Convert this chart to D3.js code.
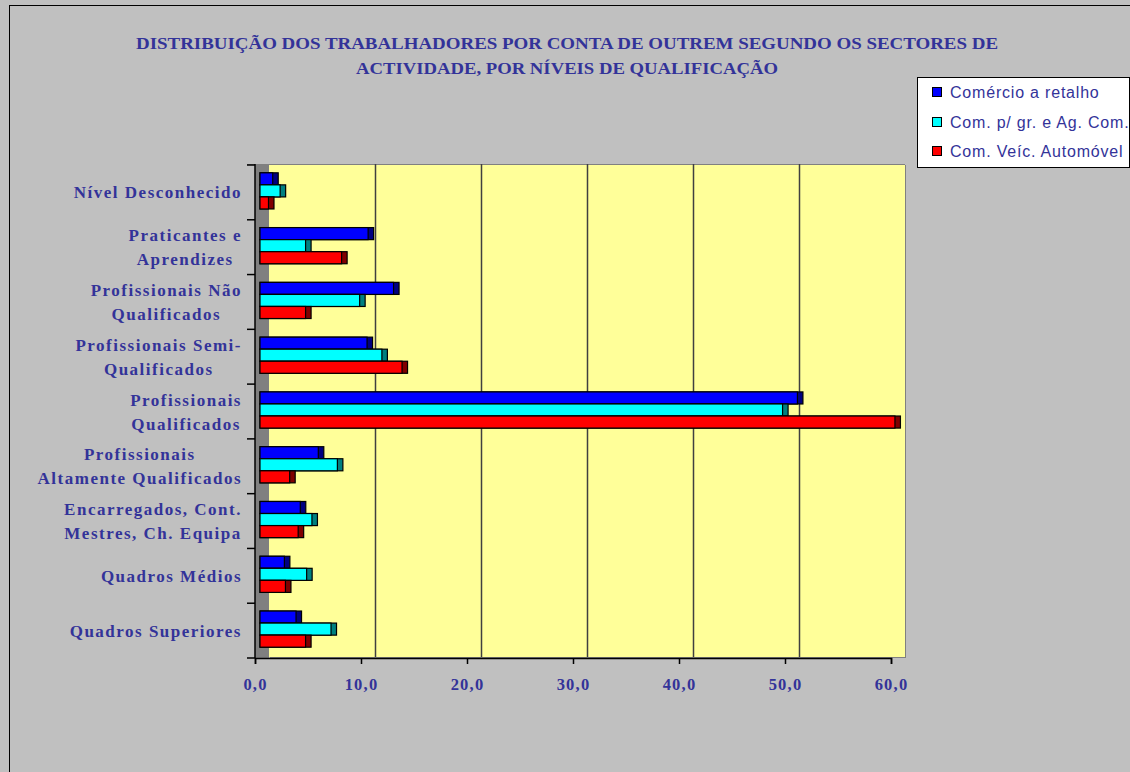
<!DOCTYPE html>
<html>
<head>
<meta charset="utf-8">
<script src="https://cdn.jsdelivr.net/npm/d3@7"></script>
<style>
  body { margin: 0; background: #c0c0c0; }
  svg { display: block; }
</style>
</head>
<body>
<svg width="1130" height="772"></svg>
<script>
    // data (percent of workers)
    const categories = [
      ["Nível Desconhecido"],
      ["Praticantes e", "Aprendizes"],
      ["Profissionais Não", "Qualificados"],
      ["Profissionais Semi-", "Qualificados"],
      ["Profissionais", "Qualificados"],
      ["Profissionais", "Altamente Qualificados"],
      ["Encarregados, Cont.", "Mestres, Ch. Equipa"],
      ["Quadros Médios"],
      ["Quadros Superiores"]
    ];
    const seriesNames = ["Comércio a retalho", "Com. p/ gr. e Ag. Com.", "Com. Veíc. Automóvel"];
    const retalho = [1.2, 10.2, 12.6, 10.1, 50.7, 5.5, 3.8, 2.3, 3.4];
    const grosso = [1.9, 4.3, 9.4, 11.5, 49.3, 7.3, 4.9, 4.4, 6.7];
    const automovel = [0.8, 7.7, 4.3, 13.4, 59.9, 2.8, 3.6, 2.4, 4.3];
    const xTicks = [0, 10, 20, 30, 40, 50, 60];

    const seriesValues = [retalho, grosso, automovel];
    const frontColors = ["#0000ff", "#00ffff", "#ff0000"];
    const sideColors = ["#000080", "#008080", "#800000"];
    const textColor = "#333399";

    const svg = d3.select("svg");
    const depth = 14;

    const x = d3.scaleLinear().domain([0, 60]).range([255, 891]);
    const keys = categories.map((c, i) => i);
    const y = d3.scaleBand().domain(keys).range([165, 658]).paddingInner(0.34).paddingOuter(0.17);
    const ySub = d3.scaleBand().domain([0, 1, 2]).range([0, y.bandwidth()]);

    // outer frame
    svg.append("rect").attr("x", 9.5).attr("y", 5.5).attr("width", 1130).attr("height", 780)
      .attr("fill", "#c0c0c0").attr("stroke", "#000").attr("stroke-width", 1);

    // title
    const title = svg.append("g").attr("fill", textColor)
      .attr("font-family", "'Liberation Serif', 'Times New Roman', serif")
      .attr("font-weight", "bold").attr("font-size", 17).attr("text-anchor", "middle");
    title.append("text").attr("x", 567).attr("y", 49)
      .attr("textLength", 862).attr("lengthAdjust", "spacingAndGlyphs")
      .text("DISTRIBUIÇÃO DOS TRABALHADORES POR CONTA DE OUTREM SEGUNDO OS SECTORES DE");
    title.append("text").attr("x", 567).attr("y", 74)
      .attr("textLength", 422).attr("lengthAdjust", "spacingAndGlyphs")
      .text("ACTIVIDADE, POR NÍVEIS DE QUALIFICAÇÃO");

    // back wall and side wall
    const wallTop = 164, wallBottom = 657;
    svg.append("rect").attr("x", x(0) + depth + 1).attr("y", wallTop + 1)
      .attr("width", x(60) - x(0)).attr("height", wallBottom - wallTop)
      .attr("fill", "#808080");
    svg.append("rect").attr("x", x(0) + depth).attr("y", wallTop)
      .attr("width", x(60) - x(0)).attr("height", wallBottom - wallTop)
      .attr("fill", "#ffff99");
    svg.append("rect").attr("x", x(0)).attr("y", wallTop)
      .attr("width", depth).attr("height", wallBottom - wallTop + 1)
      .attr("fill", "#808080");
    svg.append("line").attr("x1", 247).attr("x2", x(60) + depth).attr("y1", wallTop + 0.5).attr("y2", wallTop + 0.5)
      .attr("stroke", "#808080");

    // gridlines on back wall
    svg.append("g").selectAll("line").data(xTicks.slice(1, -1)).join("line")
      .attr("x1", d => Math.round(x(d) + depth) + 0.5).attr("x2", d => Math.round(x(d) + depth) + 0.5)
      .attr("y1", wallTop).attr("y2", wallBottom)
      .attr("stroke", "#404040").attr("stroke-width", 1.5);

    // bars
    const groups = svg.append("g").selectAll("g").data(keys).join("g")
      .attr("transform", d => `translate(0,${y(d) - 1.5})`);
    seriesValues.forEach((vals, s) => {
      groups.append("rect")
        .attr("x", x(0) + 5).attr("y", ySub(s))
        .attr("width", d => x(vals[d]) - x(0) + 5.5).attr("height", ySub.bandwidth())
        .attr("fill", sideColors[s]).attr("stroke", "#000").attr("stroke-width", 1.2);
      groups.append("rect")
        .attr("x", x(0) + 5).attr("y", ySub(s))
        .attr("width", d => x(vals[d]) - x(0)).attr("height", ySub.bandwidth())
        .attr("fill", frontColors[s]).attr("stroke", "#000").attr("stroke-width", 1.2);
    });

    // axes
    const xAxis = svg.append("g").attr("transform", "translate(0,658)")
      .call(d3.axisBottom(x).tickValues(xTicks).tickSize(6).tickPadding(14)
        .tickFormat(d => d3.format(".1f")(d).replace(".", ",")));
    xAxis.select(".domain").attr("stroke", "#000").attr("stroke-width", 1.5);
    xAxis.selectAll(".tick line").attr("stroke", "#000").attr("stroke-width", 1.5);
    xAxis.selectAll("text").attr("fill", textColor)
      .attr("font-family", "'Liberation Serif', 'Times New Roman', serif")
      .attr("font-weight", "bold").attr("font-size", 16.5).attr("letter-spacing", 1.2);

    svg.append("line").attr("x1", x(0)).attr("x2", x(0)).attr("y1", wallTop).attr("y2", 658)
      .attr("stroke", "#000").attr("stroke-width", 1.5);
    const bounds = keys.map(k => y(k) - y.step() * y.paddingInner() / 2).concat([658]);
    svg.append("g").selectAll("line").data(bounds).join("line")
      .attr("x1", 247).attr("x2", x(0)).attr("y1", d => d).attr("y2", d => d)
      .attr("stroke", "#000").attr("stroke-width", 1.5);

    // category labels: lines centred on each other, block right-aligned
    const labelRight = 242;
    keys.forEach(k => {
      const lines = categories[k];
      const g = svg.append("g").attr("fill", textColor)
        .attr("font-family", "'Liberation Serif', 'Times New Roman', serif")
        .attr("font-weight", "bold").attr("font-size", 17).attr("letter-spacing", 1.5)
        .attr("text-anchor", "middle");
      const cy = y(k) + y.bandwidth() / 2;
      const texts = lines.map((t, i) => g.append("text")
        .attr("y", cy + 6 + (i - (lines.length - 1) / 2) * 24).text(t));
      const w = d3.max(texts, t => t.node().getComputedTextLength());
      texts.forEach(t => t.attr("x", labelRight - w / 2));
    });

    // legend
    const legend = svg.append("g");
    legend.append("rect").attr("x", 917.5).attr("y", 77.5).attr("width", 212).attr("height", 90)
      .attr("fill", "#fff").attr("stroke", "#000");
    const ly = [92, 122, 151];
    seriesNames.forEach((name, i) => {
      legend.append("rect").attr("x", 932.5).attr("y", ly[i] - 4.5).attr("width", 9).attr("height", 9)
        .attr("fill", frontColors[i]).attr("stroke", "#000");
      legend.append("text").attr("x", 950).attr("y", ly[i] + 5.5)
        .attr("fill", textColor).attr("font-family", "'Liberation Sans', Arial, sans-serif")
        .attr("font-size", 16).attr("letter-spacing", 0.8).text(name);
    });
</script>
</body>
</html>
